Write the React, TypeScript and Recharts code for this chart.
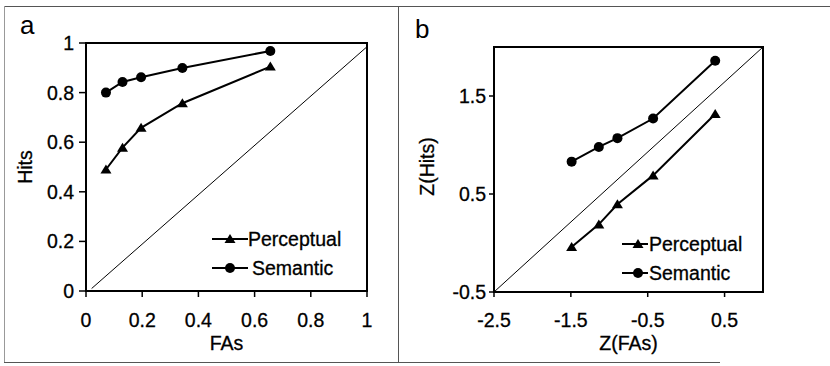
import React from "react";
import {
  ScatterChart,
  Scatter,
  XAxis,
  YAxis,
  ReferenceLine,
  ReferenceArea,
  Label,
} from "recharts";

// panel a: ROC in probability space
const faRates = [0.071, 0.13, 0.196, 0.343, 0.656];
const perceptualHits = [0.49, 0.578, 0.658, 0.757, 0.905];
const semanticHits = [0.8, 0.843, 0.862, 0.899, 0.968];
const ticksA = [0, 0.2, 0.4, 0.6, 0.8, 1];

// panel b: z-transformed ROC
const zFa = [-1.49, -1.136, -0.894, -0.43, 0.378];
const zPerceptual = [-0.04, 0.19, 0.395, 0.69, 1.317];
const zSemantic = [0.83, 0.98, 1.07, 1.27, 1.86];
const xTicksB = [-2.5, -1.5, -0.5, 0.5];
const yTicksB = [-0.5, 0.5, 1.5];

const seriesNames = ["Perceptual", "Semantic"];

const font = "'Liberation Sans', Arial, sans-serif";
const tickStyle = { fontSize: 19.5, fill: "#000", fontFamily: font, stroke: "#000", strokeWidth: 0.3 };

const toPoints = (xs: number[], ys: number[]) =>
  xs.map((x, i) => ({ x, y: ys[i] }));

const Tri = (p: any) => (
  <polygon
    points={`${p.cx},${p.cy - 5} ${p.cx - 5.5},${p.cy + 4} ${p.cx + 5.5},${p.cy + 4}`}
    fill="#000"
  />
);

const Dot = (p: any) => <circle cx={p.cx} cy={p.cy} r={5} fill="#000" />;

function sideLabel(text: string, x: number, shift = 0) {
  return (props: any) => {
    const vb = props.viewBox || { y: 0, height: 0 };
    const cy = vb.y + vb.height / 2 + shift;
    return (
      <text
        x={x}
        y={cy}
        transform={`rotate(-90 ${x} ${cy})`}
        textAnchor="middle"
        fontSize={19.5}
        fontFamily={font}
        fill="#000"
        stroke="#000"
        strokeWidth={0.3}
      >
        {text}
      </text>
    );
  };
}

// drawn outside the charts so the plot area keeps its size
function LegendBox({
  left,
  top,
  lineW,
  markX,
  gap,
}: {
  left: number;
  top: number;
  lineW: number;
  markX: number;
  gap: number[];
}) {
  return (
    <div
      style={{
        position: "absolute",
        left,
        top,
        fontFamily: font,
        fontSize: 19.5,
        color: "#000",
        WebkitTextStroke: "0.3px #000",
      }}
    >
      {seriesNames.map((name, i) => (
        <div key={name} style={{ display: "flex", alignItems: "center", height: 29 }}>
          <svg width={lineW} height={12}>
            <line x1={0} y1={6} x2={lineW} y2={6} stroke="#000" strokeWidth={2} />
            {i === 0 ? <Tri cx={markX} cy={6} /> : <Dot cx={markX} cy={6} />}
          </svg>
          <span style={{ marginLeft: gap[i], lineHeight: "20px", whiteSpace: "nowrap" }}>{name}</span>
        </div>
      ))}
    </div>
  );
}

function Frame() {
  const c = "#555";
  const letter = { position: "absolute" as const, fontFamily: font, fontSize: 26, lineHeight: "26px" };
  return (
    <>
      <div style={{ position: "absolute", left: 4, top: 6, width: 826, height: 1, background: c }} />
      <div style={{ position: "absolute", left: 4, top: 362, width: 716, height: 1, background: c }} />
      <div style={{ position: "absolute", left: 4, top: 6, width: 1, height: 356, background: "#999" }} />
      <div style={{ position: "absolute", left: 398, top: 6, width: 1, height: 356, background: c }} />
      <div style={{ ...letter, left: 20, top: 12 }}>a</div>
      <div style={{ ...letter, left: 415, top: 16 }}>b</div>
    </>
  );
}

const axisLine = { stroke: "#000", strokeWidth: 2 };
const tickLine = { stroke: "#000", strokeWidth: 1.5 };
const labelStyle = { fontSize: 19.5, fill: "#000", fontFamily: font, stroke: "#000", strokeWidth: 0.3 };

export default function App() {
  return (
    <div style={{ position: "absolute", left: 0, top: 0, width: 830, height: 366, background: "#fff" }}>
      <Frame />

      <div style={{ position: "absolute", left: 0, top: 0 }}>
        <ScatterChart width={398} height={366} margin={{ top: 43, right: 31, bottom: 13, left: 36 }}>
          <XAxis
            type="number"
            dataKey="x"
            domain={[0, 1]}
            ticks={ticksA}
            allowDataOverflow
            height={62}
            tick={tickStyle}
            tickSize={6}
            tickMargin={16}
            axisLine={axisLine}
            tickLine={tickLine}
          >
            <Label value="FAs" position="insideBottom" offset={3} {...labelStyle} />
          </XAxis>
          <YAxis
            type="number"
            dataKey="y"
            domain={[0, 1]}
            ticks={ticksA}
            allowDataOverflow
            width={50}
            tick={tickStyle}
            tickSize={7}
            tickMargin={5}
            axisLine={axisLine}
            tickLine={tickLine}
          >
            <Label content={sideLabel("Hits", 32)} />
          </YAxis>
          <ReferenceArea x1={0} x2={1} y1={0} y2={1} fill="none" stroke="#000" strokeWidth={2} />
          <ReferenceLine
            segment={[{ x: 0.02, y: 0.01 }, { x: 1, y: 0.985 }]}
            stroke="#000"
            strokeWidth={1}
          />
          <Scatter
            name="Perceptual"
            data={toPoints(faRates, perceptualHits)}
            line={{ stroke: "#000", strokeWidth: 2 }}
            shape={Tri}
            isAnimationActive={false}
          />
          <Scatter
            name="Semantic"
            data={toPoints(faRates, semanticHits)}
            line={{ stroke: "#000", strokeWidth: 2 }}
            shape={Dot}
            isAnimationActive={false}
          />
        </ScatterChart>
        <LegendBox left={212} top={224} lineW={36} markX={18} gap={[0, 4]} />
      </div>

      <div style={{ position: "absolute", left: 398, top: 0 }}>
        <ScatterChart width={432} height={366} margin={{ top: 47, right: 67, bottom: 13, left: 46 }}>
          <XAxis
            type="number"
            dataKey="x"
            domain={[-2.5, 1]}
            ticks={xTicksB}
            allowDataOverflow
            height={61}
            tick={tickStyle}
            tickSize={5}
            tickMargin={16}
            axisLine={axisLine}
            tickLine={tickLine}
          >
            <Label value="Z(FAs)" position="insideBottom" offset={3} {...labelStyle} />
          </XAxis>
          <YAxis
            type="number"
            dataKey="y"
            domain={[-0.5, 2]}
            ticks={yTicksB}
            allowDataOverflow
            width={50}
            tick={tickStyle}
            tickSize={5}
            tickMargin={3}
            axisLine={axisLine}
            tickLine={tickLine}
          >
            <Label content={sideLabel("Z(Hits)", 36, -3)} />
          </YAxis>
          <ReferenceArea x1={-2.5} x2={1} y1={-0.5} y2={2} fill="none" stroke="#000" strokeWidth={2} />
          <ReferenceLine
            segment={[{ x: -2.5, y: -0.5 }, { x: 1, y: 2 }]}
            stroke="#000"
            strokeWidth={1}
          />
          <Scatter
            name="Perceptual"
            data={toPoints(zFa, zPerceptual)}
            line={{ stroke: "#000", strokeWidth: 2 }}
            shape={Tri}
            isAnimationActive={false}
          />
          <Scatter
            name="Semantic"
            data={toPoints(zFa, zSemantic)}
            line={{ stroke: "#000", strokeWidth: 2 }}
            shape={Dot}
            isAnimationActive={false}
          />
        </ScatterChart>
        <LegendBox left={224} top={229} lineW={26} markX={16} gap={[1, 1]} />
      </div>
    </div>
  );
}
